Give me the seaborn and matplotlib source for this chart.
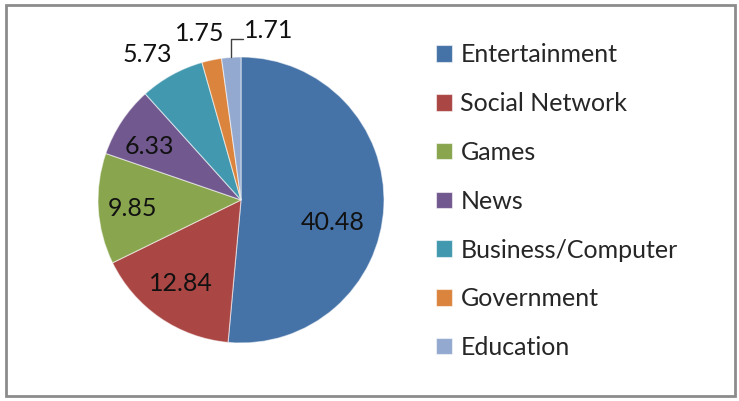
import numpy as np
import matplotlib
matplotlib.use("Agg")
import matplotlib.pyplot as plt
import seaborn as sns
from matplotlib.patches import Rectangle

# data
categories = ["Entertainment", "Social Network", "Games", "News",
              "Business/Computer", "Government", "Education"]
values = [40.48, 12.84, 9.85, 6.33, 5.73, 1.75, 1.71]
value_labels = ["40.48", "12.84", "9.85", "6.33", "5.73", "1.75", "1.71"]

colors = ["#4572A7", "#AA4643", "#89A54E", "#71588F", "#4198AF", "#DB843D", "#93A9CF"]

sns.set_theme(style="white")
plt.rcParams["font.family"] = ["Lato", "DejaVu Sans"]
palette = sns.color_palette(colors)

W, H = 739, 401
fig = plt.figure(figsize=(W / 100, H / 100), dpi=100)
ax = fig.add_axes([0, 0, 1, 1])

# pie in pixel units (y up)
cx, cy, R = 241, H - 200, 143
wedges, _ = ax.pie(values, colors=palette, startangle=90, counterclock=False,
                   center=(cx, cy), radius=R,
                   wedgeprops=dict(edgecolor=(1, 1, 1, 0.55), linewidth=0.8))
ax.set_xlim(0, W)
ax.set_ylim(0, H)
ax.set_aspect("equal")
ax.axis("off")

fs = 18
# label radius (fraction of R) and small angular shift for Excel-like placement
label_r = [0.66, 0.72, 0.76, 0.74, 1.21, 1.20, None]
label_shift = [-11, -1, 1, 3, 4, 2, 0]
for w, txt, lr, sh in zip(wedges, value_labels, label_r, label_shift):
    mid = np.deg2rad((w.theta1 + w.theta2) / 2 + sh)
    if lr is None:
        # leader line for the thinnest slice
        x0 = cx + R * np.cos(mid)
        y0 = cy + R * np.sin(mid)
        ytop = y0 + 18
        ax.plot([x0, x0, x0 + 12], [y0, ytop, ytop], color="#404040", lw=1)
        ax.text(x0 + 13, ytop - 3, txt, fontsize=fs, ha="left", va="bottom", color="#111111")
    else:
        ax.text(cx + lr * R * np.cos(mid), cy + lr * R * np.sin(mid), txt,
                fontsize=fs, ha="center", va="center", color="#111111")

leg = ax.legend(wedges, categories, loc="upper left",
                bbox_to_anchor=(424 / W, 1 - 31 / H), frameon=False,
                fontsize=fs, handlelength=0.64, handleheight=0.64,
                handletextpad=0.32, labelspacing=1.03, borderpad=0)

# outer chart border
fig.patches.append(Rectangle((6 / W, 5 / H), 729 / W, 391 / H, transform=fig.transFigure,
                             fill=False, edgecolor="#8c8c8c", linewidth=2))

fig.savefig("out.png", dpi=100, facecolor="white")
